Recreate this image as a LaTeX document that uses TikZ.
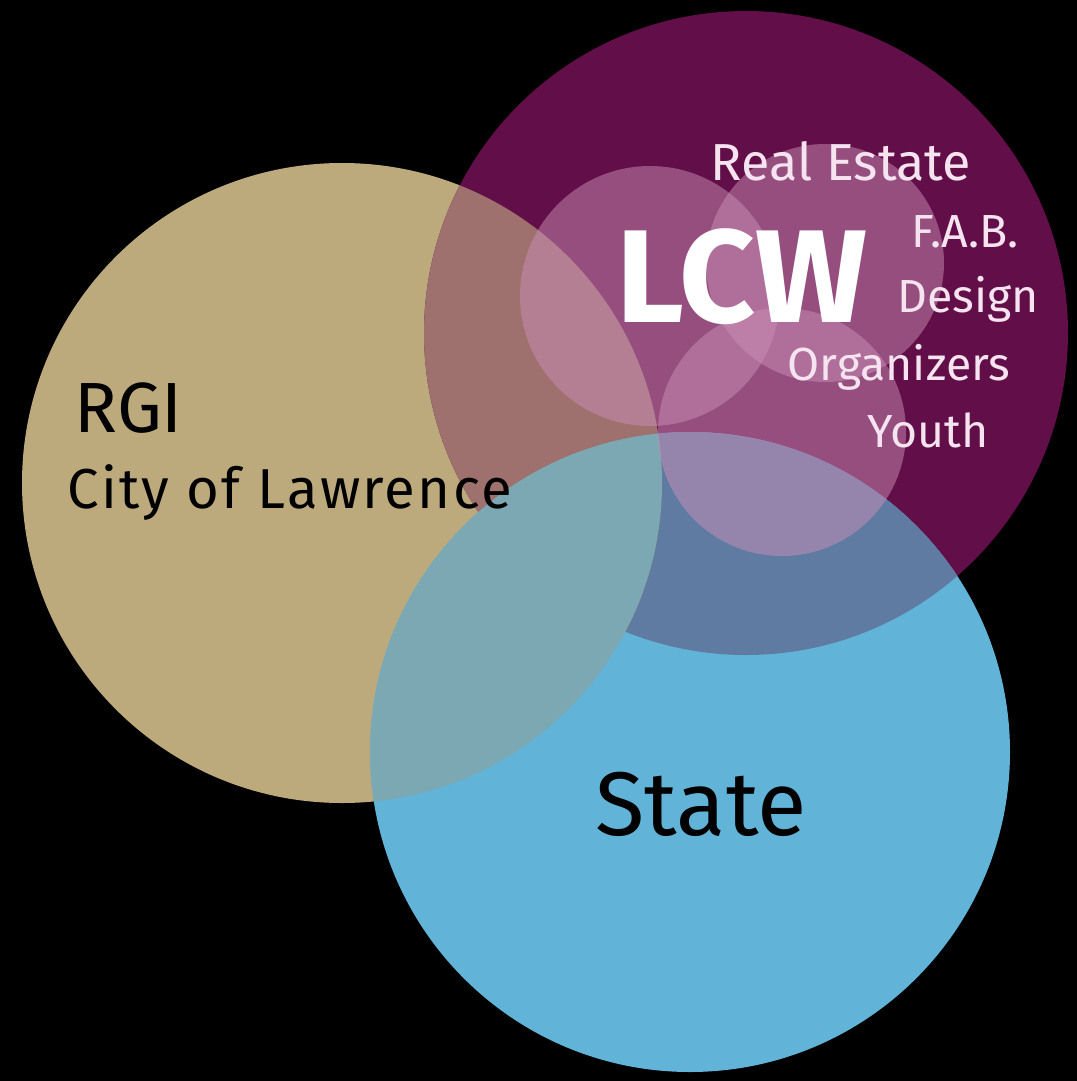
\documentclass[tikz,border=0pt]{standalone}
\usepackage{fontspec}
\setmainfont{Fira Sans}
\usepackage{tikz}

\definecolor{rgitan}{HTML}{BDAA7C}
\definecolor{lcwpurple}{HTML}{620E48}
\definecolor{stateblue}{HTML}{61B4D7}
\definecolor{tanlcw}{HTML}{9E706E}
\definecolor{tanstate}{HTML}{7BA8B2}
\definecolor{lcwstate}{HTML}{607BA1}
\definecolor{petal}{HTML}{CA8EB6}
\definecolor{lcwtext}{HTML}{F5E4F0}

\begin{document}
\begin{tikzpicture}[x=0.01cm,y=-0.01cm,inner sep=0pt,
        member/.style={text=lcwtext,anchor=base,font=\fontsize{13.2}{15}\selectfont},
        partner/.style={text=black,anchor=base}]
        \fill[black] (0,0) rectangle (1077,1081);
        \useasboundingbox (0,0) rectangle (1077,1081);
        \coordinate (rgi) at (342,483);
        \coordinate (lcw) at (746,333);
        \coordinate (state) at (690,752);
        % the three big circles
        \fill[rgitan] (rgi) circle[radius=320];
        \fill[lcwpurple] (lcw) circle[radius=322];
        \fill[stateblue] (state) circle[radius=320];
        \begin{scope}
            \clip (lcw) circle[radius=322];
            \fill[lcwstate] (state) circle[radius=320];
        \end{scope}
        \begin{scope}
            \clip (rgi) circle[radius=320];
            \fill[tanlcw] (lcw) circle[radius=322];
            \fill[tanstate] (state) circle[radius=320];
        \end{scope}
        % small circles inside LCW
        \foreach \Point/\r in {(650,296)/130, (825,263)/119, (782,432)/124}{
            \fill[petal,opacity=0.5] \Point circle[radius=\r];
        }
        \node[anchor=base,text=white,font=\fontsize{37.6}{39}\selectfont\bfseries] (lcwlabel) at (742,322) {LCW};
        \node[member,font=\fontsize{14.8}{16}\selectfont] (realestate) at (841,180) {Real Estate};
        \node[member] (fab) at (965,247) {F.A.B.};
        \node[member] (design) at (968,312) {Design};
        \node[member] (organizers) at (899,380) {Organizers};
        \node[member] (youth) at (928,447) {Youth};
        \node[partner,anchor=base west,font=\fontsize{20.2}{22}\selectfont] (rgilabel) at (74,432) {RGI};
        \node[partner,anchor=base west,font=\fontsize{16}{18}\selectfont\addfontfeature{LetterSpace=4}] (citylabel) at (67,508) {City of Lawrence};
        \node[partner,font=\fontsize{25.7}{27}\selectfont] (statelabel) at (701,835) {State};
    \end{tikzpicture}
\end{document}
